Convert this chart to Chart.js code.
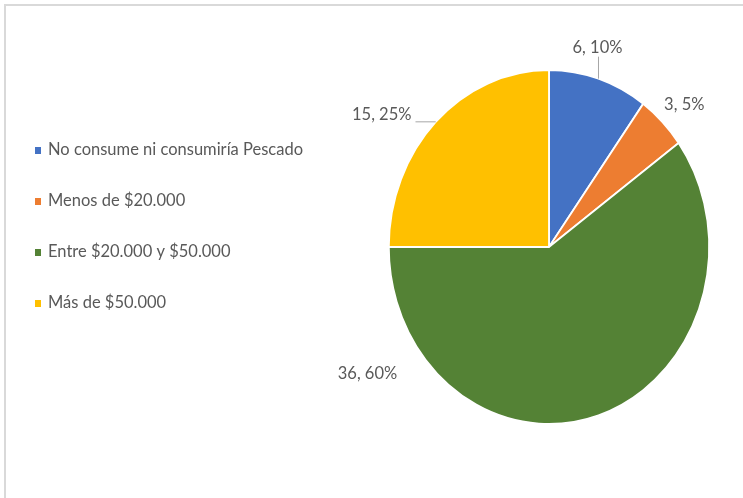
<!DOCTYPE html>
<html>
<head>
  <meta charset="utf-8">
  <title>Consumo de pescado</title>
  <script src="https://cdn.jsdelivr.net/npm/chart.js"></script>
  <style>
    body {
      margin: 0;
      background: #fff;
    }
    #frame {
      position: absolute;
      left: 4px;
      top: 4px;
      width: 739px;
      height: 494px;
      border-top: 2px solid #d9d9d9;
      border-left: 2px solid #d9d9d9;
    }
    #wrap {
      position: absolute;
      left: 0;
      top: 0;
      width: 743px;
      height: 498px;
    }
  </style>
</head>
<body>
  <div id="frame"></div>
  <div id="wrap"><canvas id="pie" width="743" height="498"></canvas></div>

  <script>
    const categories = [
      "No consume ni consumiría Pescado",
      "Menos de $20.000",
      "Entre $20.000 y $50.000",
      "Más de $50.000"
    ];
    const counts = [6, 3, 36, 15];
    const percents = [10, 5, 60, 25];
    const colors = ["#4472C4", "#ED7D31", "#548235", "#FFC000"];

    // label placement relative to the outer middle of each slice
    const labelOffsets = [[-1, -31], [22, -17], [-231, -42], [-54, -7]];
    const leaders = [true, false, false, true];

    const FONT = "16.5px Lato, 'Open Sans', sans-serif";
    const TEXT = "#595959";
    const XS = 0.905; // pie is drawn slightly narrower than tall

    const squash = {
      id: "squash",
      beforeDatasetsDraw(chart) {
        const a = chart.getDatasetMeta(0).data[0];
        const ctx = chart.ctx;
        ctx.save();
        ctx.translate(a.x, a.y);
        ctx.scale(XS, 1);
        ctx.translate(-a.x, -a.y);
      },
      afterDatasetsDraw(chart) {
        chart.ctx.restore();
      }
    };

    const labels = {
      id: "sliceLabels",
      afterDraw(chart) {
        const ctx = chart.ctx;
        const arcs = chart.getDatasetMeta(0).data;
        ctx.save();
        ctx.font = FONT;
        ctx.fillStyle = TEXT;
        ctx.strokeStyle = "#a6a6a6";
        ctx.lineWidth = 1;
        ctx.textAlign = "center";
        ctx.textBaseline = "middle";
        arcs.forEach((arc, i) => {
          const mid = (arc.startAngle + arc.endAngle) / 2;
          const px = arc.x + Math.cos(mid) * arc.outerRadius * XS;
          const py = arc.y + Math.sin(mid) * arc.outerRadius;
          const lx = px + labelOffsets[i][0];
          const ly = py + labelOffsets[i][1];
          const txt = counts[i] + ", " + percents[i] + "%";
          ctx.fillText(txt, lx, ly);
          if (leaders[i]) {
            const w = ctx.measureText(txt).width / 2 + 4;
            const bx = Math.min(Math.max(px, lx - w), lx + w);
            const by = Math.min(Math.max(py, ly - 9), ly + 9);
            ctx.beginPath();
            ctx.moveTo(px, py);
            ctx.lineTo(bx, by);
            ctx.stroke();
          }
        });
        ctx.restore();
      }
    };

    const sideLegend = {
      id: "sideLegend",
      afterDraw(chart) {
        const ctx = chart.ctx;
        ctx.save();
        ctx.font = FONT;
        ctx.textBaseline = "middle";
        ctx.textAlign = "left";
        categories.forEach((name, i) => {
          const y = 150 + i * 51;
          ctx.fillStyle = colors[i];
          ctx.fillRect(35, y - 3, 6, 7);
          ctx.fillStyle = TEXT;
          ctx.fillText(name, 48, y);
        });
        ctx.restore();
      }
    };

    new Chart(document.getElementById("pie"), {
      type: "pie",
      data: {
        labels: categories,
        datasets: [{
          data: counts,
          backgroundColor: colors,
          borderColor: "#ffffff",
          borderWidth: 2
        }]
      },
      options: {
        responsive: false,
        animation: false,
        layout: {
          padding: { left: 371, right: 16, top: 69, bottom: 73 }
        },
        plugins: {
          legend: { display: false },
          tooltip: { enabled: false }
        }
      },
      plugins: [squash, labels, sideLegend]
    });
  </script>
</body>
</html>
